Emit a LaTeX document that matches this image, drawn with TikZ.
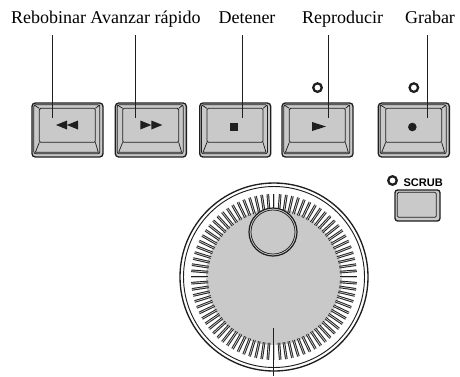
\documentclass[tikz,border=0pt]{standalone}
\usepackage{fontspec}
\setmainfont{Liberation Serif}
\newfontfamily\panelsans{Liberation Sans}
\usetikzlibrary{positioning}

\definecolor{keygray}{gray}{0.79}
\definecolor{edge}{gray}{0.12}

\begin{document}
\begin{tikzpicture}[x=0.75pt, y=-0.75pt,
    lbl/.style={font=\fontsize{13.5}{16}\selectfont, anchor=base, inner sep=2pt, text depth=3.5pt},
    leader/.style={draw=edge, line width=0.6pt, shorten <=3.5pt},
    key/.style={draw=edge, fill=keygray, line width=1pt, rounded corners=2.5pt,
                inner sep=0pt, minimum width=53.25pt, minimum height=40.5pt},
    rim/.style={draw=edge, line width=0.55pt},
    led/.style={circle, draw=edge, line width=1.7pt, inner sep=0pt, minimum size=6.4pt},
    knurl/.style={draw=edge, double=keygray, double distance=0.55pt, line width=0.7pt}]

  \useasboundingbox (0,0) rectangle (460,376);

  % transport keys
  \node[key] (rew) at (67.5,130) {};
  \node[key, right=8.25pt of rew] (ffw) {};
  \node[key, right=9pt of ffw] (stp) {};
  \node[key, right=7.5pt of stp] (ply) {};
  \node[key, right=18pt of ply] (rec) {};

  % bevel of each key
  \foreach \k in {rew,ffw,stp,ply,rec}{
    \begin{scope}[shift={(\k.north west)}]
      \draw[rim, rounded corners=1.5pt] (2.5,2.5) rectangle (68.5,51.5);
      \draw[rim, fill=keygray, rounded corners=1pt] (8,6) rectangle (64,40);
      \draw[rim] (2.5,2.5) -- (8,6) (68.5,2.5) -- (64,6)
                 (8,40) -- (4,50) -- (67,50) -- (64,40);
    \end{scope}
  }

  % key symbols
  \begin{scope}[shift={(rew.center)}]
    \fill[edge] (-11.5,-5) -- (-0.5,-9.5) -- (-0.5,-0.5) -- cycle
                (-0.5,-5) -- (10.5,-9.5) -- (10.5,-0.5) -- cycle;
  \end{scope}
  \begin{scope}[shift={(ffw.center)}]
    \fill[edge] (11.5,-5) -- (0.5,-9.5) -- (0.5,-0.5) -- cycle
                (0.5,-5) -- (-10.5,-9.5) -- (-10.5,-0.5) -- cycle;
  \end{scope}
  \begin{scope}[shift={(stp.center)}]
    \fill[edge] (-5,-7) rectangle (3,1);
  \end{scope}
  \begin{scope}[shift={(ply.center)}]
    \fill[edge] (-5.5,-8) -- (8.5,-3.5) -- (-5.5,1) -- cycle;
  \end{scope}
  \begin{scope}[shift={(rec.center)}]
    \fill[edge] (-1.5,-3) circle (4.3);
  \end{scope}

  \node[led, above=7pt of ply] (plyled) {};
  \node[led, above=7pt of rec] (recled) {};

  % labels and leaders
  \node[lbl] (rewtxt) at (48.5,23)  {Rebobinar};
  \node[lbl] (ffwtxt) at (145.5,23) {Avanzar rápido};
  \node[lbl] (stptxt) at (247,23)   {Detener};
  \node[lbl] (plytxt) at (342.5,23) {Reproducir};
  \node[lbl] (rectxt) at (430,23)   {Grabar};

  \coordinate (rewtip) at (52,118);
  \coordinate (ffwtip) at (135,118);
  \coordinate (stptip) at (242,118);
  \coordinate (plytip) at (328,118);
  \coordinate (rectip) at (427,118);

  \foreach \k in {rew,ffw,stp,ply,rec}
    \draw[leader] (\k txt.south -| \k tip) -- (\k tip);

  % jog wheel
  \node[circle, inner sep=0pt, minimum size=141pt] (jog) at (274,277) {};
  \begin{scope}[shift={(jog.center)}]
    \fill[keygray] (0,0) circle (68);
    \foreach \i in {0,...,83}
      \draw[knurl] (\i*30/7:66) -- (\i*30/7:83);
    \draw[edge, line width=1pt] (0,0) circle (94);
    \draw[edge, line width=0.7pt] (0,0) circle (90.5);
  \end{scope}
  \node[circle, draw=edge, fill=keygray, line width=0.9pt, inner sep=0pt,
        minimum size=36pt] (knob) at (273,232) {};
  \draw[rim] (knob.center) circle (22);

  \coordinate (jogtip) at (273,328);
  \coordinate (jogfoot) at (273,376);
  \draw[draw=edge, line width=0.6pt] (jogtip) -- (jogfoot);

  % scrub key
  \node[key, minimum width=33.75pt, minimum height=23.25pt, rounded corners=2pt] (scrub) at (417.5,205.5) {};
  \begin{scope}[shift={(scrub.north west)}]
    \draw[rim, rounded corners=1pt] (3,3) rectangle (42,28);
  \end{scope}
  \node[led] (scrubled) at (392.5,180.5) {};
  \node[font=\panelsans\bfseries\fontsize{8.3}{9}\selectfont, inner sep=0pt,
        right=4pt of scrubled, yshift=-1.5pt] (scrubtxt) {SCRUB};
\end{tikzpicture}
\end{document}
